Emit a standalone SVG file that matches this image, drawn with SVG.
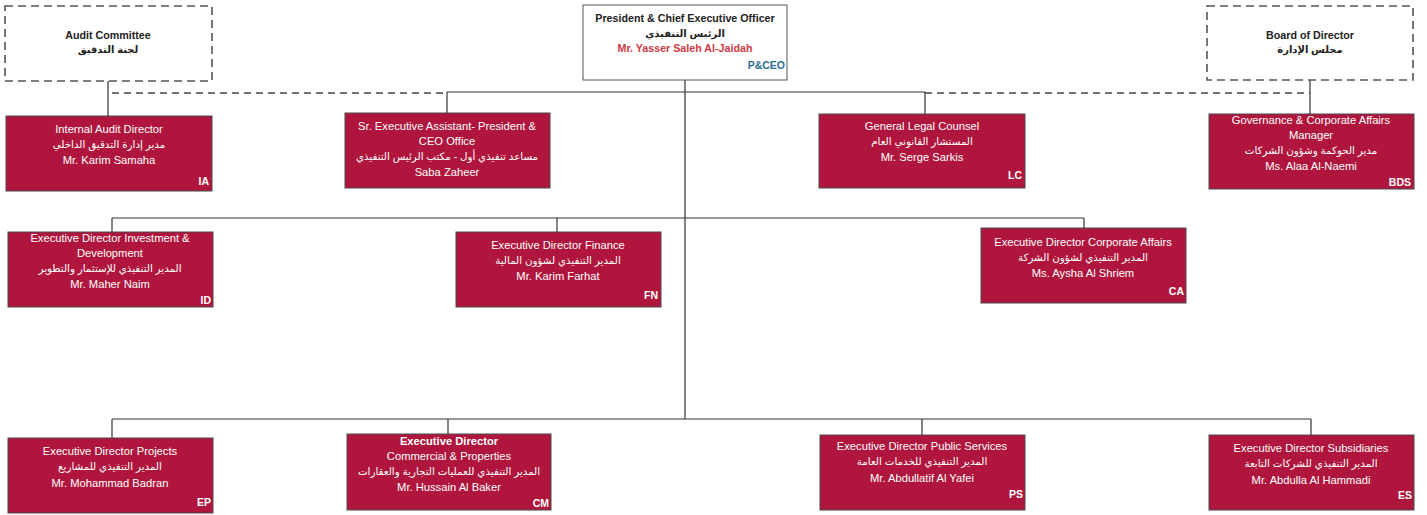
<svg xmlns="http://www.w3.org/2000/svg" width="1427" height="515" viewBox="0 0 1427 515">
<style>
.bg{fill:#ffffff}
.box{fill:#b0163d;stroke:#4a4a4a;stroke-width:1}
.top{fill:#ffffff;stroke:#555;stroke-width:1}
.dash{fill:none;stroke:#555;stroke-width:1.6;stroke-dasharray:8 5}
.ln{fill:none;stroke:#333;stroke-width:1.2}
.dl{fill:none;stroke:#444;stroke-width:1.5;stroke-dasharray:7 5}
text{font-family:"Liberation Sans","DejaVu Sans",sans-serif;text-anchor:middle}
.w{fill:#ffffff;font-size:11.2px}
.wa{fill:#ffffff;font-size:10.3px}
.code{fill:#ffffff;font-size:10.5px;font-weight:bold;text-anchor:end}
.t{fill:#222;font-size:10.7px;font-weight:bold}
.ta{fill:#222;font-size:10px;font-weight:bold}
.red{fill:#d03a45;font-size:10.7px;font-weight:bold}
.blue{fill:#2a6b8f;font-size:10.5px;font-weight:bold;text-anchor:end}
</style>
<rect class="bg" x="0" y="0" width="1427" height="515"/>
<g id="connectors">
<line class="dl" x1="112" y1="93" x2="447" y2="93"/>
<line class="dl" x1="925" y1="93" x2="1310" y2="93"/>
<line class="ln" x1="108" y1="81" x2="108" y2="116"/>
<line class="ln" x1="1310" y1="80" x2="1310" y2="114"/>
<line class="ln" x1="685" y1="80" x2="685" y2="419"/>
<line class="ln" x1="447" y1="92" x2="925" y2="92"/>
<line class="ln" x1="447" y1="92" x2="447" y2="113"/>
<line class="ln" x1="925" y1="92" x2="925" y2="114"/>
<line class="ln" x1="112" y1="218" x2="1084" y2="218"/>
<line class="ln" x1="112" y1="218" x2="112" y2="232"/>
<line class="ln" x1="557" y1="218" x2="557" y2="232"/>
<line class="ln" x1="1084" y1="218" x2="1084" y2="228"/>
<line class="ln" x1="112" y1="419" x2="1311" y2="419"/>
<line class="ln" x1="112" y1="419" x2="112" y2="438"/>
<line class="ln" x1="448" y1="419" x2="448" y2="434"/>
<line class="ln" x1="922" y1="419" x2="922" y2="435"/>
<line class="ln" x1="1311" y1="419" x2="1311" y2="435"/>
</g>
<g id="audit-committee">
<rect class="dash" x="5" y="6" width="207" height="75"/>
<text class="t" x="108" y="39">Audit Committee</text>
<text class="ta" x="108" y="53">لجنة التدقيق</text>
</g>
<g id="president">
<rect class="top" x="583" y="5" width="204" height="75"/>
<text class="t" x="685" y="22">President &amp; Chief Executive Officer</text>
<text class="ta" x="685" y="37">الرئيس التنفيذي</text>
<text class="red" x="685" y="52">Mr. Yasser Saleh Al-Jaidah</text>
<text class="blue" x="785" y="69">P&amp;CEO</text>
</g>
<g id="board">
<rect class="dash" x="1207" y="6" width="206" height="74"/>
<text class="t" x="1310" y="39">Board of Director</text>
<text class="ta" x="1310" y="53">مجلس الإدارة</text>
</g>
<g id="ia">
<rect class="box" x="6" y="116" width="206" height="75"/>
<text class="w" x="109" y="133">Internal Audit Director</text>
<text class="wa" x="109" y="148">مدير إدارة التدقيق الداخلي</text>
<text class="w" x="109" y="164">Mr. Karim Samaha</text>
<text class="code" x="209" y="185">IA</text>
</g>
<g id="ceo-office">
<rect class="box" x="345" y="113" width="205" height="75"/>
<text class="w" x="447" y="130">Sr. Executive Assistant- President &amp;</text>
<text class="w" x="447" y="145">CEO Office</text>
<text class="wa" x="447" y="160">مساعد تنفيذي أول - مكتب الرئيس التنفيذي</text>
<text class="w" x="447" y="176">Saba Zaheer</text>
</g>
<g id="lc">
<rect class="box" x="819" y="114" width="206" height="74"/>
<text class="w" x="922" y="130">General Legal Counsel</text>
<text class="wa" x="922" y="145">المستشار القانوني العام</text>
<text class="w" x="922" y="161">Mr. Serge Sarkis</text>
<text class="code" x="1022" y="179">LC</text>
</g>
<g id="bds">
<rect class="box" x="1209" y="114" width="205" height="75"/>
<text class="w" x="1311" y="124">Governance &amp; Corporate Affairs</text>
<text class="w" x="1311" y="139">Manager</text>
<text class="wa" x="1311" y="154">مدير الحوكمة وشؤون الشركات</text>
<text class="w" x="1311" y="170">Ms. Alaa Al-Naemi</text>
<text class="code" x="1411" y="186">BDS</text>
</g>
<g id="id">
<rect class="box" x="8" y="232" width="205" height="75"/>
<text class="w" x="110" y="242">Executive Director Investment &amp;</text>
<text class="w" x="110" y="257">Development</text>
<text class="wa" x="110" y="272">المدير التنفيذي للإستثمار والتطوير</text>
<text class="w" x="110" y="288">Mr. Maher Naim</text>
<text class="code" x="211" y="304">ID</text>
</g>
<g id="fn">
<rect class="box" x="456" y="232" width="205" height="75"/>
<text class="w" x="558" y="249">Executive Director Finance</text>
<text class="wa" x="558" y="264">المدير التنفيذي لشؤون المالية</text>
<text class="w" x="558" y="280">Mr. Karim Farhat</text>
<text class="code" x="658" y="299">FN</text>
</g>
<g id="ca">
<rect class="box" x="981" y="228" width="205" height="75"/>
<text class="w" x="1083" y="246">Executive Director Corporate Affairs</text>
<text class="wa" x="1083" y="261">المدير التنفيذي لشؤون الشركة</text>
<text class="w" x="1083" y="277">Ms. Aysha Al Shriem</text>
<text class="code" x="1184" y="295">CA</text>
</g>
<g id="ep">
<rect class="box" x="8" y="438" width="205" height="75"/>
<text class="w" x="110" y="455">Executive Director Projects</text>
<text class="wa" x="110" y="470">المدير التنفيذي للمشاريع</text>
<text class="w" x="110" y="487">Mr. Mohammad Badran</text>
<text class="code" x="211" y="506">EP</text>
</g>
<g id="cm">
<rect class="box" x="347" y="434" width="204" height="76"/>
<text class="w" x="449" y="445" style="font-weight:bold">Executive Director</text>
<text class="w" x="449" y="460">Commercial &amp; Properties</text>
<text class="wa" x="449" y="475">المدير التنفيذي للعمليات التجارية والعقارات</text>
<text class="w" x="449" y="491">Mr. Hussain Al Baker</text>
<text class="code" x="549" y="507">CM</text>
</g>
<g id="ps">
<rect class="box" x="820" y="435" width="205" height="75"/>
<text class="w" x="922" y="450">Executive Director Public Services</text>
<text class="wa" x="922" y="465">المدير التنفيذي للخدمات العامة</text>
<text class="w" x="922" y="482">Mr. Abdullatif Al Yafei</text>
<text class="code" x="1023" y="498">PS</text>
</g>
<g id="es">
<rect class="box" x="1209" y="435" width="205" height="75"/>
<text class="w" x="1311" y="452">Executive Director Subsidiaries</text>
<text class="wa" x="1311" y="467">المدير التنفيذي للشركات التابعة</text>
<text class="w" x="1311" y="484">Mr. Abdulla Al Hammadi</text>
<text class="code" x="1412" y="499">ES</text>
</g>
</svg>
